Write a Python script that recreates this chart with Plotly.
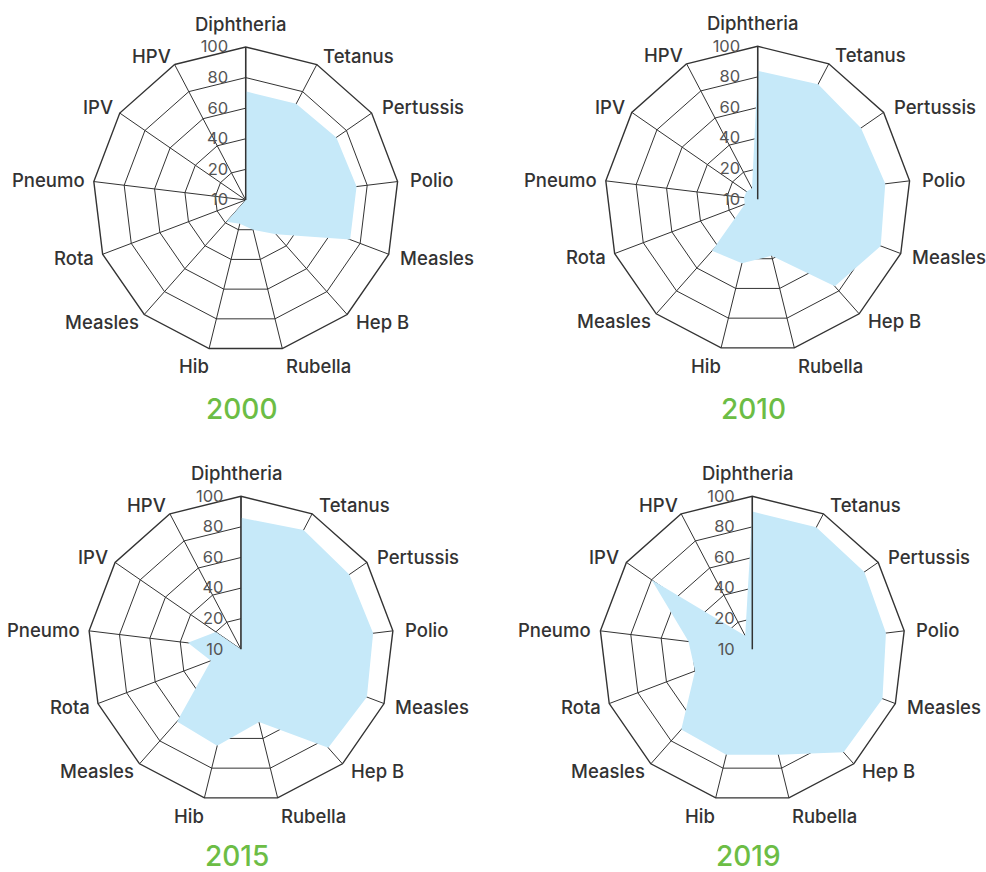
import math
import plotly.graph_objects as go

# Vaccines around each radar, clockwise from the top
vaccines = ["Diphtheria", "Tetanus", "Pertussis", "Polio", "Measles", "Hep B",
            "Rubella", "Hib", "Measles", "Rota", "Pneumo", "IPV", "HPV"]

# Radial tick labels (evenly spaced rings)
radial_tickvals = [0, 20, 40, 60, 80, 100]
radial_ticktext = ["10", "20", "40", "60", "80", "100"]

years = ["2000", "2010", "2015", "2019"]

# Coverage values
cov_2000 = [71, 71, 72, 73, 73, 30, 20, 16, 19, 0, 0, 0, 0]
cov_2010 = [84, 85, 82, 84, 86, 76, 38, 43, 45, 9, 9, 9, 8]
cov_2015 = [86, 88, 86, 87, 88, 86, 49, 65, 63, 21, 35, 20, 0]
cov_2019 = [90, 90, 89, 88, 91, 90, 71, 71, 70, 40, 42, 80, 10]

series = [cov_2000, cov_2010, cov_2015, cov_2019]

# unique category keys (Measles appears twice)
keys = [f"{v}_{i}" for i, v in enumerate(vaccines)]

W, H = 986, 872
R = 153            # polar radius in px
LABEL_GAP = 10     # distance of vaccine names beyond the outer ring
centers = [(245.7, 200), (757.7, 199.3), (241, 649.3), (752.3, 649.3)]
title_y = [409, 409, 856, 856]

fill_color = "rgb(198,233,249)"
grid_color = "#333333"
font_family = "Inter, Roboto, sans-serif"

fig = go.Figure()
layout_polars = {}
annotations = []
n = len(vaccines)
for k, (vals, yr, (cx, cy), ty) in enumerate(zip(series, years, centers, title_y)):
    name = "polar" if k == 0 else f"polar{k+1}"
    fig.add_trace(go.Scatterpolar(
        r=vals + [vals[0]],
        theta=keys + [keys[0]],
        mode="lines",
        fill="toself",
        fillcolor=fill_color,
        line=dict(color=fill_color, width=0),
        hoverinfo="skip",
        showlegend=False,
        subplot=name,
    ))
    layout_polars[name] = dict(
        domain=dict(x=[(cx - R) / W, (cx + R) / W],
                    y=[1 - (cy + R) / H, 1 - (cy - R) / H]),
        bgcolor="white",
        gridshape="linear",
        radialaxis=dict(
            range=[0, 100],
            tickmode="array",
            tickvals=radial_tickvals,
            ticktext=radial_ticktext,
            angle=90,
            tickangle=90,
            side="counterclockwise",
            showline=True,
            linecolor=grid_color,
            linewidth=1.5,
            gridcolor=grid_color,
            gridwidth=1.4,
            ticks="outside",
            ticklen=11,
            tickcolor="rgba(0,0,0,0)",
            tickfont=dict(family=font_family, size=16.5, color="#555555"),
            layer="above traces",
        ),
        angularaxis=dict(
            type="category",
            categoryorder="array",
            categoryarray=keys,
            rotation=90,
            direction="clockwise",
            showline=True,
            linecolor=grid_color,
            linewidth=1.4,
            gridcolor=grid_color,
            gridwidth=1.4,
            ticks="",
            showticklabels=False,
            layer="above traces",
        ),
    )
    # vaccine names around the outer ring
    for i, lab in enumerate(vaccines):
        a = 2 * math.pi * i / n
        s, c = math.sin(a), math.cos(a)
        gap = LABEL_GAP - 5 if c < -0.95 else LABEL_GAP
        px = cx + (R + gap) * s
        py = cy - (R + gap) * c
        xa = "center" if abs(s) < 0.1 else ("left" if s > 0 else "right")
        ya = "middle" if abs(c) < 0.95 else ("bottom" if c > 0 else "top")
        annotations.append(dict(
            text=lab, x=px / W, y=1 - py / H, xref="paper", yref="paper",
            xanchor=xa, yanchor=ya, showarrow=False,
            xshift=-5 if xa == "center" else (3 if xa == "right" else 0),
            font=dict(family=font_family, size=18.5, color="#333333", weight=500),
        ))
    annotations.append(dict(
        text=yr, x=(cx - 4) / W, y=1 - ty / H,
        xref="paper", yref="paper",
        xanchor="center", yanchor="middle", showarrow=False,
        font=dict(family=font_family, size=28, color="#6cbd45", weight=500),
    ))

fig.update_layout(
    width=W, height=H,
    margin=dict(l=0, r=0, t=0, b=0),
    paper_bgcolor="white",
    plot_bgcolor="white",
    showlegend=False,
    annotations=annotations,
    **layout_polars,
)

fig.write_html("out.html", config={"displayModeBar": False},
               post_script="document.body.style.margin='0px';")
